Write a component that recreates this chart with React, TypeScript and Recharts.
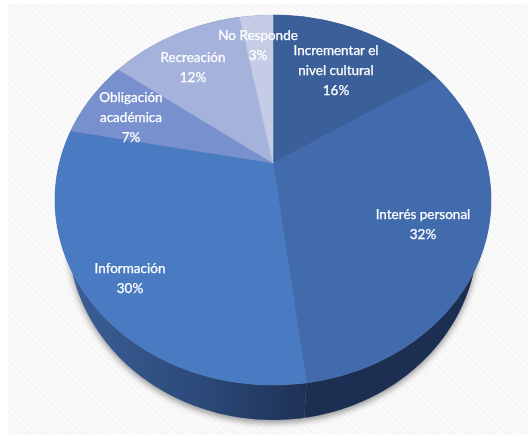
import React from "react";
import { PieChart, Pie, Cell } from "recharts";

const names = ["Incrementar el nivel cultural", "Interés personal", "Información", "Obligación académica", "Recreación", "No Responde"];
const values = [16, 32, 30, 7, 12, 3];
const colors = ["#3a5f99", "#416bad", "#4a7ac2", "#7890cd", "#a5b3dc", "#c5cde6"];
const wallFills = ["#1c2f52", "#1c2f52", "url(#wallInfo)", "#2f5080", "#2f5080", "#2f5080"];
const labelLines = [
  ["Incrementar el", "nivel cultural", "16%"],
  ["Interés personal", "32%"],
  ["Información", "30%"],
  ["Obligación", "académica", "7%"],
  ["Recreación", "12%"],
  ["No Responde", "3%"],
];
const labelSpots = [
  [336, 55],
  [423, 219],
  [130, 273],
  [131, 102],
  [193, 62],
  [258, 40],
];

const data = names.map((name, i) => ({ name, value: values[i] }));
const wholeDisc = [{ name: "all", value: values.reduce((a, b) => a + b, 0) }];

// the tilted disc: a circle seen through a perspective, centre ends up off the middle
const RX = 213.6;
const RY = 177.6;
const TILT = -0.2;
const DEPTH = 35;
const WALL_SHRINK = 0.94;

const project = (cx: number, cy: number, deg: number) => {
  const a = (deg * Math.PI) / 180;
  const x = Math.cos(a);
  const y = -Math.sin(a);
  const d = 1 + TILT * y;
  return [cx + (RX * x) / d, cy + (RY * y) / d];
};

const arcPoints = (cx: number, cy: number, start: number, end: number) => {
  const steps = Math.max(2, Math.ceil(Math.abs(end - start)));
  const pts: number[][] = [];
  for (let i = 0; i <= steps; i++) pts.push(project(cx, cy, start + ((end - start) * i) / steps));
  return pts;
};

const toD = (pts: number[][]) => pts.map((p, i) => `${i ? "L" : "M"}${p[0].toFixed(2)} ${p[1].toFixed(2)}`).join(" ");

const lower = (pts: number[][], cx: number, extra = 0) =>
  pts.map((p) => [cx + (p[0] - cx) * WALL_SHRINK, p[1] + DEPTH + extra]);

const TopSlice = (props: any) => {
  const { cx, cy, startAngle, endAngle, fill } = props;
  const pts = arcPoints(cx, cy, startAngle, endAngle);
  return <path d={`M${cx} ${cy} ${toD(pts).replace("M", "L")} Z`} fill={fill} stroke={fill} strokeWidth={0.5} />;
};

const WallSlice = (props: any) => {
  const { cx, cy, startAngle, endAngle, fill } = props;
  const pts = arcPoints(cx, cy, startAngle, endAngle);
  const low = lower(pts, cx).reverse();
  return <path d={`${toD(pts)} ${toD(low).replace("M", "L")} Z`} fill={fill} />;
};

const ShadowDisc = (props: any) => {
  const { cx, cy, startAngle, endAngle } = props;
  const pts = lower(arcPoints(cx, cy, startAngle, endAngle), cx, 3);
  return <path d={`${toD(pts)} Z`} fill="#000000" fillOpacity={0.4} style={{ filter: "blur(3px)" }} />;
};

const SliceLabel = (props: any) => {
  const i = props.index;
  const lines = labelLines[i];
  const spot = labelSpots[i];
  return (
    <text
      x={spot[0]}
      y={spot[1]}
      textAnchor="middle"
      fill="#ffffff"
      stroke="#ffffff"
      strokeWidth={0.25}
      fontFamily="Lato, sans-serif"
      fontSize={13.5}
      style={{ filter: "blur(0.3px)" }}
    >
      {lines.map((t, k) => (
        <tspan key={k} x={spot[0]} dy={k ? 20 : 0}>
          {t}
        </tspan>
      ))}
    </text>
  );
};

const App = () => {
  return (
    <div style={{ position: "absolute", left: 0, top: 0, width: 528, height: 435, background: "#ffffff", overflow: "hidden" }}>
      <div
        style={{
          position: "absolute",
          left: 8,
          top: 4,
          right: 0,
          bottom: 0,
          background: "repeating-linear-gradient(45deg, #f6f6f6 0, #f6f6f6 2px, #fbfbfb 2px, #fbfbfb 4px)",
        }}
      />
      <PieChart width={528} height={435} margin={{ top: 0, right: 0, bottom: 0, left: 0 }} style={{ position: "absolute", left: 0, top: 0 }}>
        <defs>
          <linearGradient id="wallInfo" gradientUnits="userSpaceOnUse" x1="68" y1="0" x2="306" y2="0">
            <stop offset="0" stopColor="#3a5f96" />
            <stop offset="0.55" stopColor="#2c4a7a" />
            <stop offset="1" stopColor="#1e3156" />
          </linearGradient>
        </defs>
        <Pie
          data={wholeDisc}
          dataKey="value"
          cx={273}
          cy={163}
          outerRadius={200}
          startAngle={90}
          endAngle={-270}
          stroke="none"
          isAnimationActive={false}
          shape={ShadowDisc}
        />
        <Pie
          data={data}
          dataKey="value"
          cx={273}
          cy={163}
          outerRadius={200}
          startAngle={90}
          endAngle={-270}
          stroke="none"
          isAnimationActive={false}
          shape={WallSlice}
        >
          {data.map((d, i) => (
            <Cell key={d.name} fill={wallFills[i]} />
          ))}
        </Pie>
        <Pie
          data={data}
          dataKey="value"
          cx={273}
          cy={163}
          outerRadius={200}
          startAngle={90}
          endAngle={-270}
          stroke="none"
          isAnimationActive={false}
          shape={TopSlice}
          label={SliceLabel}
          labelLine={false}
        >
          {data.map((d, i) => (
            <Cell key={d.name} fill={colors[i]} />
          ))}
        </Pie>
      </PieChart>
    </div>
  );
};

export default App;
